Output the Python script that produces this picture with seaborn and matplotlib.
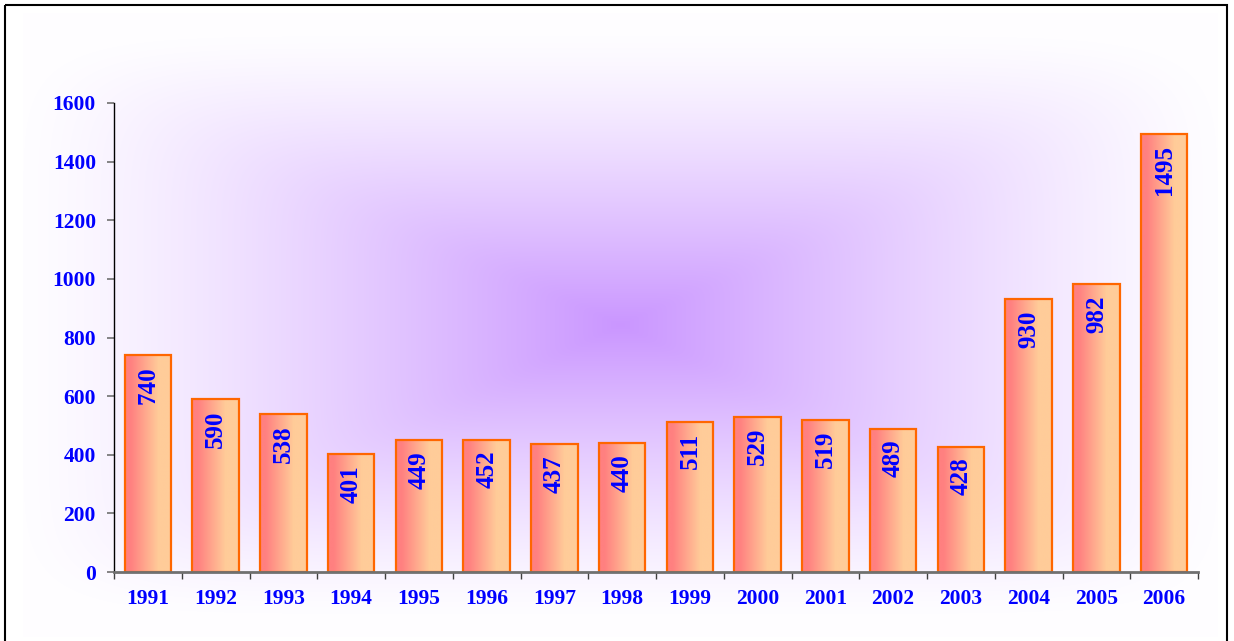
import numpy as np
import pandas as pd
import matplotlib
matplotlib.use("Agg")
import matplotlib.pyplot as plt
from matplotlib.patches import Rectangle
from matplotlib.ticker import FixedLocator
import seaborn as sns

years = ["1991", "1992", "1993", "1994", "1995", "1996", "1997", "1998",
         "1999", "2000", "2001", "2002", "2003", "2004", "2005", "2006"]
values = [740, 590, 538, 401, 449, 452, 437, 440,
          511, 529, 519, 489, 428, 930, 982, 1495]
y_ticks = [0, 200, 400, 600, 800, 1000, 1200, 1400, 1600]

df = pd.DataFrame({"year": years, "value": values})

W, H = 1234, 641
fig = plt.figure(figsize=(W / 100, H / 100), dpi=100)
fig.patch.set_facecolor("white")

# background: rectangular "from centre" purple gradient
bg = fig.add_axes([0, 0, 1, 1], zorder=0)
bg.axis("off")
x0, x1, y0, y1 = 23, 1218, 13, 637
cx, cy = (x0 + x1) / 2, (y0 + y1) / 2
a, b = (x1 - x0) / 2, (y1 - y0) / 2 / 1.08
xs = np.arange(W) + 0.5
ys = np.arange(H) + 0.5
X, Y = np.meshgrid(xs, ys)
u = np.abs(X - cx) / a
v = np.abs(Y - cy) / b
pn = 8.0
t = np.clip((u ** pn + v ** pn) ** (1 / pn), 0, 1)
inten = (1 - t) ** 1.25
center = np.array([202, 150, 255]) / 255.0
white = np.array([254, 253, 255]) / 255.0
img = white[None, None, :] + (center - white)[None, None, :] * inten[..., None]
outside = (X < x0) | (X > x1) | (Y < y0) | (Y > y1)
img[outside] = 1.0
bg.imshow(img, extent=[0, W, H, 0], aspect="auto", interpolation="bilinear")
bg.set_xlim(0, W)
bg.set_ylim(H, 0)
bg.add_patch(Rectangle((5, 5), 1222, 700, fill=False, edgecolor="black", lw=1.5))

# main axes
ax = fig.add_axes([114 / W, (H - 572) / H, (1198 - 114) / W, (572 - 103) / H], zorder=1)
ax.patch.set_alpha(0)

sns.barplot(data=df, x="year", y="value", ax=ax, width=0.69, color="#FF8080",
            saturation=1, edgecolor="#FF6600", linewidth=1.6, zorder=3)

grad_t = np.linspace(0, 1, 256)
gt = np.clip((grad_t - 0.12) / 0.6, 0, 1)
c_left = np.array([255, 128, 128]) / 255.0
c_right = np.array([255, 204, 153]) / 255.0
grad = c_left[None, None, :] + (c_right - c_left)[None, None, :] * gt[None, :, None]

for p in list(ax.patches):
    bx, by = p.get_x(), p.get_y()
    bw, bh = p.get_width(), p.get_height()
    p.set_facecolor("none")
    ax.imshow(grad, extent=[bx, bx + bw, by, by + bh], aspect="auto",
              interpolation="bilinear", zorder=2.5)

ax.set_xlim(-0.5, len(years) - 0.5)
ax.set_ylim(0, 1600)
ax.set_yticks(y_ticks)
ax.set_xlabel("")
ax.set_ylabel("")

label_font = dict(family="Liberation Serif", weight="bold", color="#0000FF")
for i, v_ in enumerate(values):
    ax.annotate(str(v_), (i, v_), xytext=(0, -8), textcoords="offset points",
                rotation=90, ha="center", va="top", fontsize=18, zorder=5,
                **label_font)

for lab in ax.get_xticklabels() + ax.get_yticklabels():
    lab.set_fontfamily("Liberation Serif")
    lab.set_fontweight("bold")
    lab.set_color("#0000FF")
    lab.set_fontsize(15.5)

ax.xaxis.set_minor_locator(FixedLocator(np.arange(-0.5, len(years), 1.0)))
ax.tick_params(axis="x", which="major", length=0, pad=12)
ax.tick_params(axis="x", which="minor", length=5, width=1, color="#404040", direction="out")
ax.tick_params(axis="y", which="major", length=5, width=1.2, color="#707070", direction="out", pad=8)

for s in ["top", "right"]:
    ax.spines[s].set_visible(False)
ax.spines["left"].set_color("black")
ax.spines["left"].set_linewidth(1)
ax.spines["bottom"].set_color("#707070")
ax.spines["bottom"].set_linewidth(2)
ax.spines["bottom"].set_zorder(6)

fig.savefig("out.png", dpi=100)
